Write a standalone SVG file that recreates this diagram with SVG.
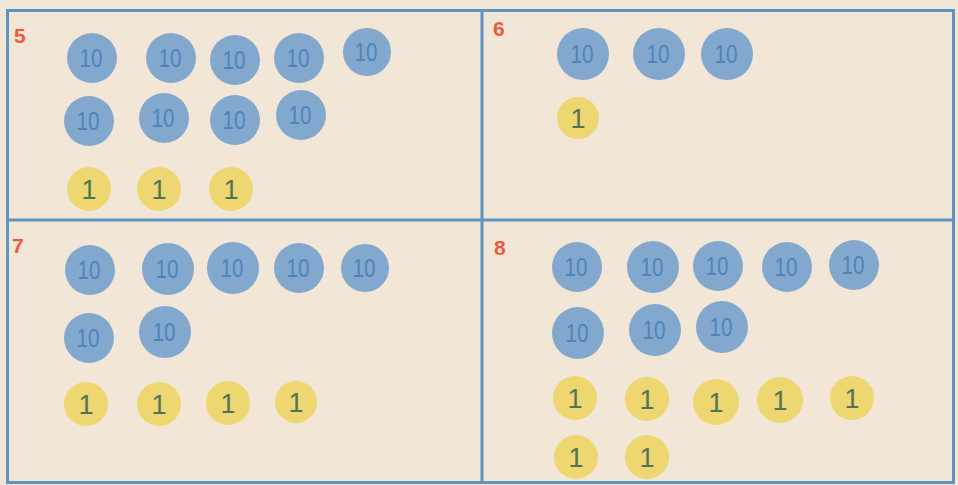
<svg xmlns="http://www.w3.org/2000/svg" width="958" height="485" viewBox="0 0 958 485">
<style>
.bg{fill:#f2e6d6}
.frame{fill:none;stroke:#5f93c2;stroke-width:3}
.num{font-family:"Liberation Sans",Arial,sans-serif;font-weight:bold;font-size:21px;fill:#ec5a3c}
.ten circle{fill:#82a8ce}
.ten text{font-family:"Liberation Sans",Arial,sans-serif;font-size:26px;fill:#5084b8;text-anchor:middle}
.one circle{fill:#eed670}
.one text{font-family:"Liberation Sans",Arial,sans-serif;font-size:27px;fill:#4f7458;text-anchor:middle}
</style>
<rect class="bg" x="0" y="0" width="958" height="485"/>
<g id="frame">
<rect class="frame" x="7.5" y="10.5" width="946" height="472"/>
<line class="frame" x1="482" y1="10" x2="482" y2="483"/>
<line class="frame" x1="7" y1="220" x2="954" y2="220"/>
</g>
<g id="panel5">
<text class="num" x="14" y="43">5</text>
<g class="ten"><circle cx="92" cy="58" r="25"/><text x="91" y="67" textLength="23" lengthAdjust="spacingAndGlyphs">10</text></g>
<g class="ten"><circle cx="171" cy="58" r="25"/><text x="170" y="67" textLength="23" lengthAdjust="spacingAndGlyphs">10</text></g>
<g class="ten"><circle cx="235" cy="60" r="25"/><text x="234" y="69" textLength="23" lengthAdjust="spacingAndGlyphs">10</text></g>
<g class="ten"><circle cx="299" cy="58" r="25"/><text x="298" y="67" textLength="23" lengthAdjust="spacingAndGlyphs">10</text></g>
<g class="ten"><circle cx="367" cy="52" r="24"/><text x="366" y="61" textLength="23" lengthAdjust="spacingAndGlyphs">10</text></g>
<g class="ten"><circle cx="89" cy="121" r="25"/><text x="88" y="130" textLength="23" lengthAdjust="spacingAndGlyphs">10</text></g>
<g class="ten"><circle cx="164" cy="118" r="25"/><text x="163" y="127" textLength="23" lengthAdjust="spacingAndGlyphs">10</text></g>
<g class="ten"><circle cx="235" cy="120" r="25"/><text x="234" y="129" textLength="23" lengthAdjust="spacingAndGlyphs">10</text></g>
<g class="ten"><circle cx="301" cy="115" r="25"/><text x="300" y="124" textLength="23" lengthAdjust="spacingAndGlyphs">10</text></g>
<g class="one"><circle cx="89" cy="189" r="22"/><text x="89" y="199">1</text></g>
<g class="one"><circle cx="159" cy="189" r="22"/><text x="159" y="199">1</text></g>
<g class="one"><circle cx="231" cy="189" r="22"/><text x="231" y="199">1</text></g>
</g>
<g id="panel6">
<text class="num" x="493" y="36">6</text>
<g class="ten"><circle cx="583" cy="54" r="26"/><text x="582" y="63" textLength="23" lengthAdjust="spacingAndGlyphs">10</text></g>
<g class="ten"><circle cx="659" cy="54" r="26"/><text x="658" y="63" textLength="23" lengthAdjust="spacingAndGlyphs">10</text></g>
<g class="ten"><circle cx="727" cy="54" r="26"/><text x="726" y="63" textLength="23" lengthAdjust="spacingAndGlyphs">10</text></g>
<g class="one"><circle cx="578" cy="118" r="21"/><text x="578" y="128">1</text></g>
</g>
<g id="panel7">
<text class="num" x="12" y="253">7</text>
<g class="ten"><circle cx="90" cy="270" r="25"/><text x="89" y="279" textLength="23" lengthAdjust="spacingAndGlyphs">10</text></g>
<g class="ten"><circle cx="168" cy="269" r="26"/><text x="167" y="278" textLength="23" lengthAdjust="spacingAndGlyphs">10</text></g>
<g class="ten"><circle cx="233" cy="268" r="26"/><text x="232" y="277" textLength="23" lengthAdjust="spacingAndGlyphs">10</text></g>
<g class="ten"><circle cx="299" cy="268" r="25"/><text x="298" y="277" textLength="23" lengthAdjust="spacingAndGlyphs">10</text></g>
<g class="ten"><circle cx="365" cy="268" r="24"/><text x="364" y="277" textLength="23" lengthAdjust="spacingAndGlyphs">10</text></g>
<g class="ten"><circle cx="89" cy="338" r="25"/><text x="88" y="347" textLength="23" lengthAdjust="spacingAndGlyphs">10</text></g>
<g class="ten"><circle cx="165" cy="332" r="26"/><text x="164" y="341" textLength="23" lengthAdjust="spacingAndGlyphs">10</text></g>
<g class="one"><circle cx="86" cy="404" r="22"/><text x="86" y="414">1</text></g>
<g class="one"><circle cx="159" cy="404" r="22"/><text x="159" y="414">1</text></g>
<g class="one"><circle cx="228" cy="403" r="22"/><text x="228" y="413">1</text></g>
<g class="one"><circle cx="296" cy="402" r="21"/><text x="296" y="412">1</text></g>
</g>
<g id="panel8">
<text class="num" x="494" y="255">8</text>
<g class="ten"><circle cx="577" cy="267" r="25"/><text x="576" y="276" textLength="23" lengthAdjust="spacingAndGlyphs">10</text></g>
<g class="ten"><circle cx="653" cy="267" r="26"/><text x="652" y="276" textLength="23" lengthAdjust="spacingAndGlyphs">10</text></g>
<g class="ten"><circle cx="718" cy="266" r="25"/><text x="717" y="275" textLength="23" lengthAdjust="spacingAndGlyphs">10</text></g>
<g class="ten"><circle cx="787" cy="267" r="25"/><text x="786" y="276" textLength="23" lengthAdjust="spacingAndGlyphs">10</text></g>
<g class="ten"><circle cx="854" cy="265" r="25"/><text x="853" y="274" textLength="23" lengthAdjust="spacingAndGlyphs">10</text></g>
<g class="ten"><circle cx="578" cy="333" r="26"/><text x="577" y="342" textLength="23" lengthAdjust="spacingAndGlyphs">10</text></g>
<g class="ten"><circle cx="655" cy="330" r="26"/><text x="654" y="339" textLength="23" lengthAdjust="spacingAndGlyphs">10</text></g>
<g class="ten"><circle cx="722" cy="327" r="26"/><text x="721" y="336" textLength="23" lengthAdjust="spacingAndGlyphs">10</text></g>
<g class="one"><circle cx="575" cy="398" r="22"/><text x="575" y="408">1</text></g>
<g class="one"><circle cx="647" cy="399" r="22"/><text x="647" y="409">1</text></g>
<g class="one"><circle cx="716" cy="402" r="23"/><text x="716" y="412">1</text></g>
<g class="one"><circle cx="780" cy="400" r="23"/><text x="780" y="410">1</text></g>
<g class="one"><circle cx="852" cy="398" r="22"/><text x="852" y="408">1</text></g>
<g class="one"><circle cx="576" cy="457" r="22"/><text x="576" y="467">1</text></g>
<g class="one"><circle cx="647" cy="457" r="22"/><text x="647" y="467">1</text></g>
</g>
</svg>
